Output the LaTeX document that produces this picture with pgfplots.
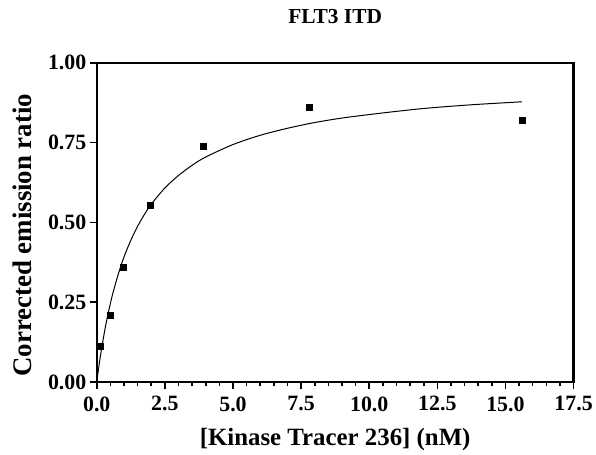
\documentclass[border=0pt]{standalone}
\usepackage{pgfplots}
\pgfplotsset{compat=1.18}
\usepackage{fontspec}
\setmainfont{Liberation Serif}

\begin{document}
\begin{tikzpicture}
\begin{axis}[
  scale only axis, width=478bp, height=320bp,
  xmin=0, xmax=17.5, ymin=0, ymax=1,
  xtick={0,2.5,...,17.5}, ytick={0,0.25,0.5,0.75,1},
  minor x tick num=4,
  tick pos=left, tick align=outside,
  major tick length=7bp, minor tick length=4bp,
  every tick/.style={black, line width=1.6bp},
  axis line style={line width=2.2bp},
  /pgf/number format/assume math mode=true,
  xticklabel={\pgfmathprintnumber[fixed,fixed zerofill,precision=1]{\tick}},
  yticklabel={\pgfmathprintnumber[fixed,fixed zerofill,precision=2]{\tick}},
  ticklabel style={font=\fontsize{22}{22}\selectfont\bfseries},
  xticklabel style={yshift=-4bp},
  title={FLT3 ITD},
  title style={font=\fontsize{21.5}{21.5}\selectfont\bfseries, at={(axis description cs:0.5,1.106)}, anchor=base},
  xlabel={[Kinase Tracer 236] (nM)},
  xlabel style={font=\fontsize{25}{25}\selectfont\bfseries, at={(axis description cs:0.5,-0.2)}, anchor=base},
  ylabel={Corrected emission ratio},
  ylabel style={font=\fontsize{27}{27}\selectfont\bfseries, at={(axis description cs:-0.136,0.46)}, anchor=base, rotate=0},
  clip=false,
]
% fitted saturation curve
\addplot[black, line width=1bp, smooth] coordinates {
  (0,0) (0.1,0.062) (0.2,0.116) (0.3,0.165) (0.4,0.208) (0.5,0.246)
  (0.6,0.281) (0.8,0.341) (1.0,0.392) (1.25,0.444) (1.5,0.488)
  (1.75,0.525) (2.0,0.557) (2.5,0.608) (3.0,0.647) (3.5,0.679)
  (4.0,0.705) (5.0,0.744) (6.0,0.773) (7.0,0.795) (8.0,0.813)
  (9.0,0.827) (10,0.838) (11,0.848) (12,0.857) (13,0.864)
  (14,0.870) (15,0.875) (15.6,0.878)
};
% measured points
\addplot[only marks, mark=square*, mark size=3bp, black] coordinates {
  (0.12,0.113) (0.49,0.21) (0.98,0.36) (1.95,0.553)
  (3.9,0.74) (7.8,0.862) (15.6,0.821)
};
\end{axis}
\path[use as bounding box] (-97bp,-71bp) rectangle (499bp,383bp);
\end{tikzpicture}
\end{document}
